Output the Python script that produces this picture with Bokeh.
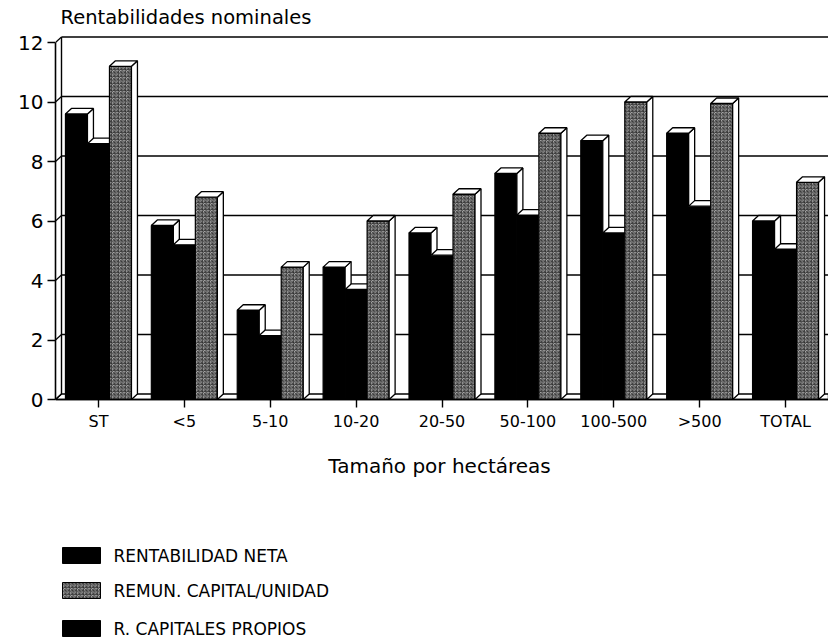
from bokeh.plotting import figure
from bokeh.models import Range1d, LinearAxis, FixedTicker, ColumnDataSource
from bokeh.core.properties import value
from bokeh.embed import file_html
from bokeh.resources import INLINE

# ---------------- data ----------------
categories = ["ST", "<5", "5-10", "10-20", "20-50", "50-100", "100-500", ">500", "TOTAL"]
rentabilidad_neta = [9.6, 5.85, 3.0, 4.45, 5.6, 7.6, 8.7, 8.95, 6.0]
capitales_propios = [8.6, 5.2, 2.15, 3.7, 4.85, 6.2, 5.6, 6.5, 5.05]
remun_capital = [11.2, 6.8, 4.45, 6.0, 6.9, 8.95, 10.0, 9.95, 7.3]
y_ticks = [0, 2, 4, 6, 8, 10, 12]
legend_labels = ["RENTABILIDAD NETA", "REMUN. CAPITAL/UNIDAD", "R. CAPITALES PROPIOS"]
title_text = "Rentabilidades nominales"
x_title = "Tamaño por hectáreas"

# ---------------- layout constants (pixels) ----------------
W, H = 828, 644
LEFT = 55
PX_PER_CAT = (W - LEFT) / len(categories)
Y0_PX = 399.0
PX_PER_UNIT = 29.75
x_start, x_end = -0.5, len(categories) - 0.5
y_end = Y0_PX / PX_PER_UNIT
y_start = -(H - Y0_PX) / PX_PER_UNIT


def px_x(px):
    return x_start + (px - LEFT) / PX_PER_CAT


def px_y(py):
    return (Y0_PX - py) / PX_PER_UNIT


DX = 6.0 / PX_PER_CAT
DY = 5.5 / PX_PER_UNIT
BAR_W = 22.0 / PX_PER_CAT
FONT = value("DejaVu Sans")

GRAY_STYLE = dict(fill_color="#b4b4b4", hatch_pattern="criss_cross", hatch_scale=3.5,
                  hatch_color="#2a2a2a", hatch_weight=0.8)
BLACK_STYLE = dict(fill_color="black")

p = figure(width=W, height=H, x_range=Range1d(x_start, x_end), y_range=Range1d(y_start, y_end),
           x_axis_location=None, output_backend="svg", toolbar_location=None,
           min_border_left=LEFT, min_border_right=0, min_border_top=0, min_border_bottom=0)
p.grid.visible = False
p.outline_line_color = None
p.background_fill_color = "white"

# ---------------- 3D walls ----------------
top = max(y_ticks)
gx0 = [x_start + DX] * (len(y_ticks) - 1)
gx1 = [x_end] * (len(y_ticks) - 1)
gy = [t + DY for t in y_ticks[1:]]
p.segment(x0=gx0, y0=gy, x1=gx1, y1=gy, line_color="black", line_width=1.6)
# floor
p.patch(x=[x_start, x_end, x_end, x_start + DX], y=[0, 0, DY, DY],
        fill_color="white", line_color="black", line_width=1.4)
# left wall
p.segment(x0=[x_start + DX], y0=[DY], x1=[x_start + DX], y1=[top + DY], line_color="black", line_width=1.4)
p.segment(x0=[x_start] * len(y_ticks), y0=y_ticks, x1=[x_start + DX] * len(y_ticks),
          y1=[t + DY for t in y_ticks], line_color="black", line_width=1.2)

# ---------------- bars ----------------
series = [(rentabilidad_neta, BLACK_STYLE), (capitales_propios, BLACK_STYLE), (remun_capital, GRAY_STYLE)]
for k, (vals, style) in enumerate(series):
    off = (k - 1) * BAR_W
    lefts = [i + off - BAR_W / 2 for i in range(len(categories))]
    rights = [i + off + BAR_W / 2 for i in range(len(categories))]
    src = ColumnDataSource(dict(left=lefts, right=rights, top=vals, bottom=[0] * len(vals)))
    p.quad(left="left", right="right", top="top", bottom="bottom", source=src,
           line_color="black", line_width=1.2, **style)
    side_xs = [[r, r + DX, r + DX, r] for r in rights]
    side_ys = [[0, DY, v + DY, v] for v in vals]
    p.patches(xs=side_xs, ys=side_ys, fill_color="white", line_color="black", line_width=1.3)
    cap_xs = [[l, l + DX, r + DX, r] for l, r in zip(lefts, rights)]
    cap_ys = [[v, v + DY, v + DY, v] for v in vals]
    p.patches(xs=cap_xs, ys=cap_ys, fill_color="white", line_color="black", line_width=1.3)

# ---------------- axes ----------------
ya = p.yaxis[0]
ya.bounds = (0, top)
ya.ticker = FixedTicker(ticks=y_ticks)
ya.minor_tick_line_color = None
ya.major_tick_out = 8
ya.major_tick_in = 0
ya.major_label_standoff = 4
ya.axis_line_width = 1.6
ya.major_tick_line_width = 1.4
ya.major_label_text_font = "DejaVu Sans"
ya.major_label_text_font_size = "20px"
ya.major_label_text_color = "black"

xa = LinearAxis(fixed_location=0, ticker=FixedTicker(ticks=list(range(len(categories)))),
                major_label_overrides={i: c for i, c in enumerate(categories)},
                bounds=(x_start, x_end))
xa.minor_tick_line_color = None
xa.major_tick_out = 8
xa.major_tick_in = 0
xa.major_label_standoff = 4
xa.axis_line_width = 1.6
xa.major_tick_line_width = 1.4
xa.major_label_text_font = "DejaVu Sans"
xa.major_label_text_font_size = "16px"
xa.major_label_text_color = "black"
p.add_layout(xa, "below")

# ---------------- texts ----------------
p.text(x=[px_x(60)], y=[px_y(17)], text=[title_text], text_font=FONT, text_font_size="19.5px",
       text_baseline="middle", text_align="left", text_color="black")
p.text(x=[px_x(439)], y=[px_y(465)], text=[x_title], text_font=FONT, text_font_size="20px",
       text_baseline="middle", text_align="center", text_color="black")

# ---------------- legend ----------------
leg_y = [px_y(555), px_y(590), px_y(628)]
half_h = 8.0 / PX_PER_UNIT
leg_styles = [BLACK_STYLE, GRAY_STYLE, BLACK_STYLE]
for yy, st in zip(leg_y, leg_styles):
    p.quad(left=[px_x(62)], right=[px_x(100)], top=[yy + half_h], bottom=[yy - half_h],
           line_color="black", line_width=1, **st)
p.text(x=[px_x(113)] * 3, y=leg_y, text=legend_labels, text_font=FONT, text_font_size="17px",
       text_baseline="middle", text_align="left", text_color="black")

open("out.html", "w").write(file_html(p, INLINE))
